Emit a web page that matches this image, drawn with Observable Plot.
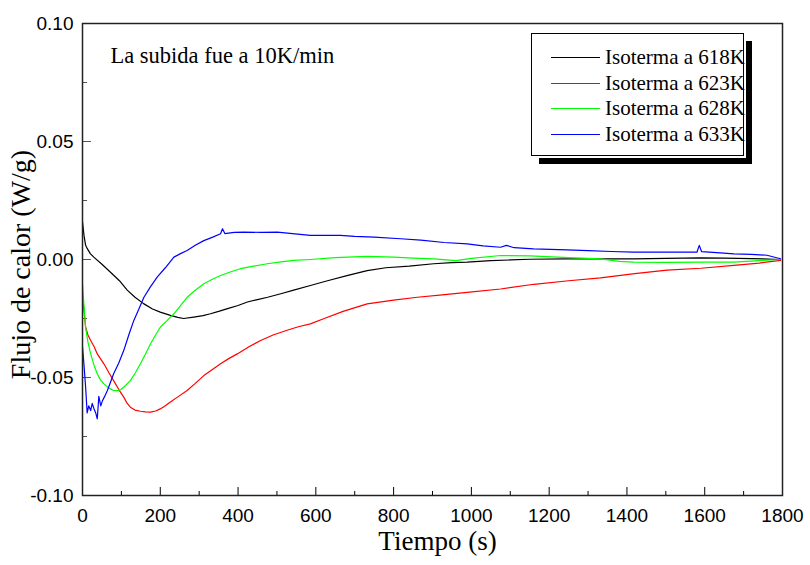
<!DOCTYPE html>
<html>
<head>
<meta charset="utf-8">
<script src="https://cdn.jsdelivr.net/npm/d3@7"></script>
<script src="https://cdn.jsdelivr.net/npm/@observablehq/plot@0.6"></script>
<style>
  body { margin: 0; background: white; }
  #wrap { position: relative; width: 810px; height: 565px; }
  #legend { position: absolute; left: 531px; top: 33px; width: 211px; height: 121px;
            border: 1px solid black; background: white;
            box-shadow: 0 0 0 2px white, 8px 8px 0 0 black; }
  .row { position: absolute; left: 19px; height: 24px; display: flex; align-items: center;
         font-family: "Liberation Serif", "Times New Roman", serif; font-size: 21px; color: black; white-space: nowrap; }
  .sw { width: 49px; height: 0; border-top: 1.5px solid; margin-right: 5px; }
</style>
</head>
<body>
<div id="wrap"></div>
<script>
// ---- data ----
const seriesNames = ["Isoterma a 618K", "Isoterma a 623K", "Isoterma a 628K", "Isoterma a 633K"];
const seriesColors = ["#000000", "#ff0000", "#00ff00", "#0000ff"];

const t618 = [0,4,8,12,20,29,50,72,95,115,135,157,180,200,226,245,260,286,310,329,350,373,400,424,450,476,510,543,586,630,680,732,780,840,903,950,989,1050,1100,1150,1246,1330,1417,1500,1589,1650,1720,1795];
const v618 = [0.016,0.010,0.006,0.0047,0.0025,0.001,-0.002,-0.0054,-0.009,-0.013,-0.016,-0.0187,-0.021,-0.0223,-0.0237,-0.0245,-0.025,-0.0244,-0.0238,-0.023,-0.022,-0.0208,-0.0195,-0.018,-0.017,-0.016,-0.0145,-0.013,-0.011,-0.009,-0.0068,-0.0047,-0.0035,-0.0028,-0.0018,-0.0013,-0.0011,-0.0005,-0.0002,0.0001,0.0003,0.0003,0.0003,0.0005,0.0007,0.0006,0.0004,0.0];

const t623 = [0,4,8,14,21,30,38,46,55,68,80,93,106,115,123,135,149,162,175,188,200,213,226,247,269,290,312,335,355,376,398,428,458,490,526,555,586,620,670,732,800,861,925,989,1075,1161,1250,1332,1420,1503,1590,1675,1740,1795];
const v623 = [-0.0153,-0.022,-0.0287,-0.032,-0.0343,-0.037,-0.040,-0.042,-0.0442,-0.048,-0.0513,-0.055,-0.0583,-0.061,-0.0626,-0.0638,-0.0643,-0.0646,-0.0647,-0.0642,-0.0633,-0.062,-0.0604,-0.058,-0.0555,-0.0525,-0.0492,-0.0465,-0.0442,-0.042,-0.040,-0.037,-0.0343,-0.032,-0.030,-0.0285,-0.0273,-0.0251,-0.022,-0.0188,-0.0172,-0.016,-0.015,-0.0139,-0.0125,-0.0105,-0.009,-0.0078,-0.006,-0.0045,-0.0037,-0.0025,-0.0015,-0.0004];

const t628 = [0,4,8,14,21,30,38,46,55,68,80,90,98,110,123,136,149,162,175,188,200,218,235,252,269,290,312,333,355,380,406,440,475,510,543,586,650,732,800,850,903,960,1000,1075,1150,1250,1332,1380,1417,1500,1600,1675,1740,1795];
const v628 = [-0.0103,-0.020,-0.0287,-0.035,-0.040,-0.045,-0.0484,-0.051,-0.0527,-0.0545,-0.0555,-0.0556,-0.0552,-0.0535,-0.0513,-0.048,-0.0442,-0.040,-0.0357,-0.032,-0.0287,-0.0258,-0.023,-0.0195,-0.016,-0.013,-0.0103,-0.0085,-0.0068,-0.0053,-0.0039,-0.0028,-0.0018,-0.001,-0.0004,0.0,0.0008,0.0013,0.001,0.0006,0.0003,-0.0005,0.0005,0.0017,0.0015,0.0008,0.0003,-0.0008,-0.0011,-0.0012,-0.0011,-0.0011,-0.0005,0.0];

const t633 = [0,4,8,12,16,21,25,29,34,38,42,47,51,57,64,72,80,93,106,119,132,145,158,175,192,213,235,252,269,290,312,335,355,360,366,390,415,460,501,540,586,620,663,700,750,818,870,930,989,1030,1075,1090,1110,1160,1246,1300,1360,1417,1500,1580,1586,1592,1640,1675,1720,1760,1795];
const v633 = [-0.037,-0.045,-0.054,-0.065,-0.062,-0.064,-0.061,-0.063,-0.065,-0.0675,-0.058,-0.062,-0.060,-0.058,-0.0555,-0.052,-0.0484,-0.044,-0.0386,-0.032,-0.0258,-0.021,-0.016,-0.0115,-0.0075,-0.0035,0.001,0.0025,0.0038,0.006,0.008,0.0095,0.0109,0.013,0.011,0.0115,0.0116,0.0115,0.0116,0.011,0.0102,0.0102,0.0102,0.0098,0.0095,0.0088,0.0082,0.0072,0.0066,0.0058,0.0052,0.006,0.005,0.0045,0.0041,0.0038,0.0034,0.0031,0.0031,0.0031,0.006,0.0033,0.0028,0.0024,0.0022,0.0018,0.0003];

const xMajorTicks = [0,200,400,600,800,1000,1200,1400,1600,1800];
const xMinorTicks = [100,300,500,700,900,1100,1300,1500,1700];
const yMajorTicks = [-0.10,-0.05,0.00,0.05,0.10];
const yMinorTicks = [-0.075,-0.025,0.025,0.075];

const xTitle = "Tiempo (s)";
const yTitle = "Flujo de calor (W/g)";
const note = "La subida fue a 10K/min";

// ---- build ----
const times = [t618, t623, t628, t633];
const vals = [v618, v623, v628, v633];
const rows = [];
seriesNames.forEach((name, i) => {
  times[i].forEach((t, j) => rows.push({series: name, t, v: vals[i][j]}));
});

const serif = "'Liberation Serif', 'Times New Roman', serif";
const sans = "'Liberation Sans', Arial, sans-serif";

const chart = Plot.plot({
  width: 810,
  height: 565,
  marginLeft: 82,
  marginRight: 28,
  marginTop: 23,
  marginBottom: 70,
  style: {fontFamily: sans, fontSize: "19px", background: "white", color: "black"},
  x: {domain: [0, 1800]},
  y: {domain: [-0.1, 0.1]},
  color: {domain: seriesNames, range: seriesColors},
  marks: [
    Plot.axisX({ticks: xMajorTicks, tickSize: 0, tickPadding: 13, tickFormat: d => String(d), label: null, fontSize: 19}),
    Plot.axisY({ticks: yMajorTicks, tickSize: 0, tickPadding: 9, tickFormat: d => d.toFixed(2), label: null, fontSize: 19}),
    Plot.ruleX(xMajorTicks, {x: d => d, y1: -0.1, y2: -0.1 + 0.0034, stroke: "black", strokeWidth: 1}),
    Plot.ruleX(xMinorTicks, {x: d => d, y1: -0.1, y2: -0.1 + 0.0017, stroke: "black", strokeWidth: 1}),
    Plot.ruleY(yMajorTicks, {y: d => d, x1: 0, x2: 23, stroke: "#555", strokeWidth: 1}),
    Plot.ruleY(yMinorTicks, {y: d => d, x1: 0, x2: 13, stroke: "#555", strokeWidth: 1}),
    Plot.line(rows, {x: "t", y: "v", z: "series", stroke: "series", strokeWidth: 1.2}),
    Plot.frame({stroke: "#222", strokeWidth: 1.5}),
    Plot.text([note], {frameAnchor: "top-left", textAnchor: "start", dx: 28, dy: 24, fontFamily: serif, fontSize: 22.5, fill: "black"}),
    Plot.text([xTitle], {frameAnchor: "bottom", textAnchor: "middle", dx: 5, dy: 54, fontFamily: serif, fontSize: 27, fill: "black"}),
    Plot.text([yTitle], {frameAnchor: "left", textAnchor: "middle", rotate: -90, dx: -61, dy: 5, fontFamily: serif, fontSize: 28, fill: "black"})
  ]
});

const wrap = document.getElementById("wrap");
wrap.appendChild(chart);

const legend = document.createElement("div");
legend.id = "legend";
seriesNames.forEach((name, i) => {
  const r = document.createElement("div");
  r.className = "row";
  r.style.top = (24.3 + i * 25.8 - 12 - 1) + "px";
  const sw = document.createElement("div");
  sw.className = "sw";
  sw.style.borderTopColor = seriesColors[i];
  const tx = document.createElement("span");
  tx.textContent = name;
  r.appendChild(sw);
  r.appendChild(tx);
  legend.appendChild(r);
});
wrap.appendChild(legend);
</script>
</body>
</html>
